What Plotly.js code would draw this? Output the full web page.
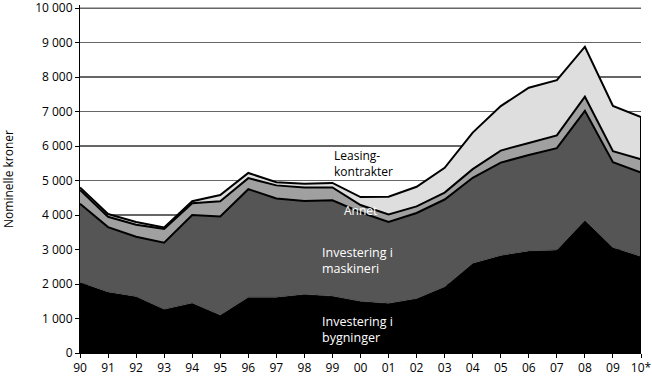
<!DOCTYPE html>
<html>
<head>
<meta charset="utf-8">
<script src="https://cdn.plot.ly/plotly-3.0.1.min.js"></script>
<style>html,body{margin:0;padding:0;background:#fff;}#chart{width:652px;height:381px;}</style>
</head>
<body>
<div id="chart"></div>
<script>
const years = ['90','91','92','93','94','95','96','97','98','99','00','01','02','03','04','05','06','07','08','09','10*'];
const bygninger = [2050,1770,1640,1270,1450,1100,1620,1620,1700,1650,1500,1440,1580,1920,2600,2830,2960,2990,3850,3060,2800];
const maskineri = [2280,1880,1730,1930,2550,2860,3130,2860,2710,2780,2580,2360,2480,2530,2480,2690,2780,2950,3170,2470,2430];
const annet     = [400,300,350,400,340,440,320,380,390,370,210,220,190,200,250,350,350,370,410,320,390];
const leasing   = [70,80,80,40,60,180,150,90,110,130,230,510,570,720,1060,1290,1600,1600,1450,1310,1220];
const yMax = 10000;
const yStep = 1000;

const font = "'Open Sans', 'Noto Sans', sans-serif";
const last = years.length - 1;
const totalLast = bygninger[last] + maskineri[last] + annet[last] + leasing[last];

const traces = [
  {x: years, y: bygninger, name: 'Investering i bygninger', stackgroup: 'one', mode: 'lines',
   line: {color: '#333333', width: 0.5}, fillcolor: '#000000'},
  {x: years, y: maskineri, name: 'Investering i maskineri', stackgroup: 'one', mode: 'lines',
   line: {color: '#000000', width: 2}, fillcolor: '#555555'},
  {x: years, y: annet, name: 'Annet', stackgroup: 'one', mode: 'lines',
   line: {color: '#000000', width: 2}, fillcolor: '#a0a0a0'},
  {x: years, y: leasing, name: 'Leasingkontrakter', stackgroup: 'one', mode: 'lines',
   line: {color: '#000000', width: 2}, fillcolor: '#dedede'},
  {x: [years[last], years[last]], y: [0, totalLast], mode: 'lines',
   line: {color: '#000000', width: 2}, showlegend: false}
];

const layout = {
  width: 652, height: 381,
  margin: {l: 80, r: 11, t: 5, b: 28},
  paper_bgcolor: '#ffffff', plot_bgcolor: '#ffffff',
  showlegend: false,
  hovermode: false,
  separators: ', ',
  font: {family: font, size: 12, color: '#000'},
  xaxis: {
    type: 'category', range: [0, last],
    showgrid: false, showline: true, linecolor: '#000', linewidth: 1,
    ticks: 'outside', ticklen: 4, tickcolor: '#000', tickwidth: 1,
    tickfont: {family: font, size: 12, color: '#000'},
    zeroline: false
  },
  yaxis: {
    range: [0, yMax * 1.009], tickmode: 'linear', tick0: 0, dtick: yStep, tickformat: ',d',
    ticklabeloverflow: 'allow',
    showgrid: true, gridcolor: '#666666', gridwidth: 1.2,
    showline: true, linecolor: '#000', linewidth: 1,
    ticks: 'outside', ticklen: 4, tickcolor: '#000',
    tickfont: {family: font, size: 12, color: '#000'},
    zeroline: false,
    title: {text: 'Nominelle kroner', font: {family: font, size: 12, color: '#000'}, standoff: 20}
  },
  shapes: [
    {type: 'line', xref: 'paper', x0: 0, x1: 1, yref: 'y', y0: yMax, y1: yMax,
     line: {color: '#666666', width: 1.2}, layer: 'below'}
  ],
  annotations: [
    {x: 9, y: 5500, xref: 'x', yref: 'y', text: 'Leasing-<br>kontrakter', showarrow: false,
     xanchor: 'left', align: 'left', font: {family: font, size: 12, color: '#000'}},
    {x: 10, y: 4120, xref: 'x', yref: 'y', text: 'Annet', showarrow: false,
     xanchor: 'center', font: {family: font, size: 12, color: '#fff'}},
    {x: 8.55, y: 2670, xref: 'x', yref: 'y', text: 'Investering i<br>maskineri', showarrow: false,
     xanchor: 'left', align: 'left', font: {family: font, size: 12.5, color: '#fff'}},
    {x: 8.55, y: 670, xref: 'x', yref: 'y', text: 'Investering i<br>bygninger', showarrow: false,
     xanchor: 'left', align: 'left', font: {family: font, size: 12.5, color: '#fff'}}
  ]
};

Plotly.newPlot('chart', traces, layout, {staticPlot: true, displayModeBar: false});
</script>
</body>
</html>
